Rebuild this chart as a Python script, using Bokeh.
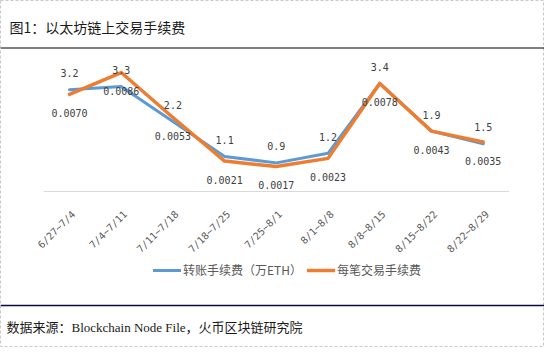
import math
from bokeh.plotting import figure
from bokeh.models import Range1d, Label, Span, Legend, LegendItem
from bokeh.core.properties import value
from bokeh.embed import file_html
from bokeh.resources import INLINE

# ---- data ----
periods = ["6/27~7/4", "7/4~7/11", "7/11~7/18", "7/18~7/25", "7/25~8/1",
           "8/1~8/8", "8/8~8/15", "8/15~8/22", "8/22~8/29"]
transfer_fee = [3.2, 3.3, 2.2, 1.1, 0.9, 1.2, 3.4, 1.9, 1.5]          # 转账手续费（万ETH）
per_tx_fee = [0.0070, 0.0086, 0.0053, 0.0021, 0.0017, 0.0023, 0.0078, 0.0043, 0.0035]  # 每笔交易手续费
series_names = ["转账手续费（万ETH）", "每笔交易手续费"]
title_text = "图1：以太坊链上交易手续费"
source_text = "数据来源：Blockchain Node File，火币区块链研究院"

BLUE = "#5B9BD5"
ORANGE = "#ED7D31"

W, H = 544, 347
idx = list(range(len(periods)))

p = figure(width=W, height=H, output_backend="svg", toolbar_location=None,
           x_axis_location=None, y_axis_location=None, title=None,
           x_range=Range1d(-1.334, 9.186), y_range=Range1d(-4.906, 6.006),
           min_border=0, min_border_left=0, min_border_right=0,
           min_border_top=0, min_border_bottom=0)
p.extra_y_ranges = {"fee": Range1d(-0.011583, 0.013889)}
p.background_fill_color = "white"
p.border_fill_color = "white"
p.outline_line_color = "#C8C8C8"
p.outline_line_dash = "3 2"
p.xgrid.visible = False
p.ygrid.visible = False

# category axis base line
p.line(x=[idx[0] - 0.5, idx[-1] + 0.5], y=[0, 0], line_color="#D9D9D9", line_width=1)

# rotated category labels
p.text(x=idx, y=[0] * len(idx), text=periods, angle=math.pi / 4,
       x_offset=4, y_offset=21, text_align="right", text_baseline="middle",
       text_font=value("DejaVu Sans Mono"), text_font_size="10px", text_color="#595959")

# series lines
r_blue = p.line(x=idx, y=transfer_fee, line_color=BLUE, line_width=3,
                line_join="round", line_cap="round")
r_orange = p.line(x=idx, y=per_tx_fee, y_range_name="fee", line_color=ORANGE,
                  line_width=3.5, line_join="round", line_cap="round")

# data labels
p.text(x=idx, y=transfer_fee, text=[f"{v:.1f}" for v in transfer_fee],
       y_offset=-16.5, text_align="center", text_baseline="middle",
       text_font=value("DejaVu Sans Mono"), text_font_size="10px", text_color="#404040")
p.text(x=idx, y=per_tx_fee, y_range_name="fee", text=[f"{v:.4f}" for v in per_tx_fee],
       y_offset=18.5, text_align="center", text_baseline="middle",
       text_font=value("DejaVu Sans Mono"), text_font_size="10px", text_color="#404040")

# legend
legend = Legend(items=[LegendItem(label=series_names[0], renderers=[r_blue]),
                       LegendItem(label=series_names[1], renderers=[r_orange])],
                location=(153, 69), orientation="horizontal",
                glyph_width=28, glyph_height=12, label_standoff=2, spacing=5,
                padding=0, margin=0, border_line_color=None, background_fill_alpha=0,
                label_text_font="Noto Sans CJK SC", label_text_font_size="12px",
                label_text_color="#595959")
p.add_layout(legend, "center")

# title, rules, footer
p.add_layout(Label(x=9, y=321, x_units="screen", y_units="screen", text=title_text,
                   text_font="Noto Sans CJK SC", text_font_size="14px",
                   text_color="#1A1A1A", text_baseline="middle"))
p.add_layout(Span(location=299.5, location_units="screen", dimension="width",
                  line_color="#000000", line_width=1))
p.add_layout(Span(location=42, location_units="screen", dimension="width",
                  line_color="#0A0A46", line_width=1.5))
p.add_layout(Label(x=6, y=20.5, x_units="screen", y_units="screen", text=source_text,
                   text_font="Liberation Serif, Noto Sans CJK SC", text_font_size="13px",
                   text_color="#1A1A1A", text_baseline="middle"))

open("out.html", "w").write(file_html(p, INLINE))
